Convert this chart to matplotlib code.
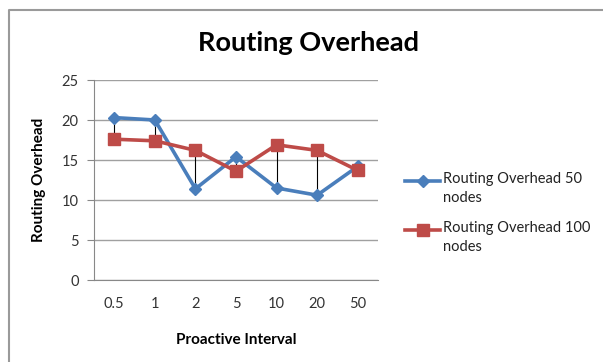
import matplotlib.pyplot as plt
from matplotlib.lines import Line2D

plt.rcParams['font.family'] = ['Lato', 'DejaVu Sans']

intervals = ["0.5", "1", "2", "5", "10", "20", "50"]
overhead_50 = [20.3, 20.0, 11.4, 15.4, 11.5, 10.6, 14.2]
overhead_100 = [17.6, 17.4, 16.2, 13.6, 16.9, 16.2, 13.7]
y_ticks = [0, 5, 10, 15, 20, 25]
series_labels = ["Routing Overhead 50\nnodes", "Routing Overhead 100\nnodes"]

blue = "#4a7ebb"
red = "#be4b48"
grid_grey = "#a0a0a0"

W, H = 603, 362
fig = plt.figure(figsize=(W / 100, H / 100), dpi=100)


def fx(px):
    return px / W


def fy(py):
    return 1 - py / H


# chart frame, open on the right and bottom
fig.lines.append(Line2D([fx(9), fx(9), 1], [0, fy(10), fy(10)],
                        transform=fig.transFigure, color="#9a9a9a", lw=1.5))

ax = fig.add_axes([fx(94), fy(280), 284 / W, 200 / H])
x = list(range(len(intervals)))

# high-low lines between the two series
lows = [min(a, b) for a, b in zip(overhead_50, overhead_100)]
highs = [max(a, b) for a, b in zip(overhead_50, overhead_100)]
ax.vlines(x, lows, highs, color="black", lw=0.8, zorder=2)

styles = [dict(color=blue, marker="D", ms=6.5), dict(color=red, marker="s", ms=9)]
for values, st, z in zip([overhead_50, overhead_100], styles, [3, 4]):
    ax.plot(x, values, lw=2.6, zorder=z, **st)

ax.set_xlim(-0.5, len(intervals) - 0.5)
ax.set_ylim(0, 25)
ax.set_yticks(y_ticks)
ax.set_xticks(x)
ax.set_xticklabels(intervals)
ax.yaxis.grid(True, color=grid_grey, lw=1)
ax.set_axisbelow(True)
for side in ("top", "right"):
    ax.spines[side].set_visible(False)
ax.spines["left"].set_color("#888888")
ax.spines["bottom"].set_color("#888888")
ax.tick_params(axis="y", length=5, color="#888888", labelsize=10.5, pad=6, labelcolor="#333333")
ax.tick_params(axis="x", length=0, labelsize=10.5, pad=12, labelcolor="#333333")

ax.set_ylabel("Routing Overhead", fontsize=11, fontweight="bold", labelpad=11)
ax.set_xlabel("Proactive Interval", fontsize=11, fontweight="bold", labelpad=16)
fig.text(fx(309), fy(43), "Routing Overhead", fontsize=19.5, fontweight="bold",
         ha="center", va="center")

# legend keys sit level with the first line of each label
for label, st, top in zip(series_labels, styles, [181, 230]):
    fig.lines.append(Line2D([fx(405), fx(440)], [fy(top), fy(top)], transform=fig.transFigure,
                            lw=2.6, color=st["color"]))
    fig.lines.append(Line2D([fx(422.5)], [fy(top)], transform=fig.transFigure, lw=0,
                            marker=st["marker"], ms=st["ms"], color=st["color"]))
    fig.text(fx(443), fy(top - 9), label, fontsize=10.5, color="#222222",
             ha="left", va="top", linespacing=1.45)

fig.savefig("out.png", dpi=100)
